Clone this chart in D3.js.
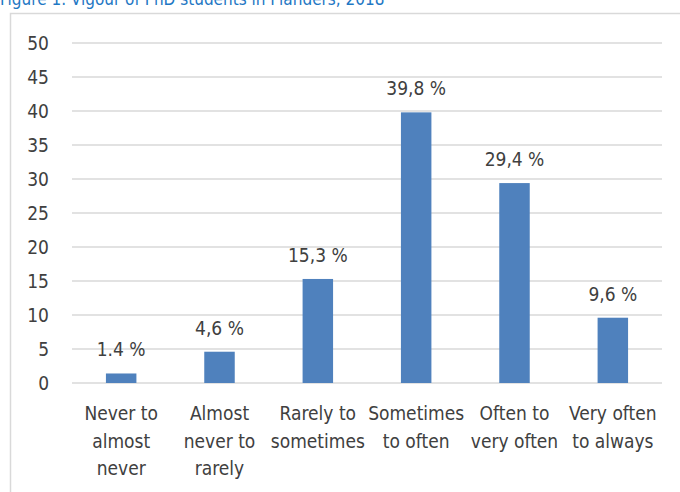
<!DOCTYPE html>
<html>
<head>
<meta charset="utf-8">
<script src="https://cdn.jsdelivr.net/npm/d3@7"></script>
<style>
  body { margin: 0; background: #fff; }
  svg { display: block; }
  .txt { font-family: "DejaVu Sans Condensed", "Liberation Sans Narrow", sans-serif; fill: #404040; }
</style>
</head>
<body>
<div id="chart"></div>
<script>
var categories = [
  ["Never to", "almost", "never"],
  ["Almost", "never to", "rarely"],
  ["Rarely to", "sometimes"],
  ["Sometimes", "to often"],
  ["Often to", "very often"],
  ["Very often", "to always"]
];
var values = [1.4, 4.6, 15.3, 39.8, 29.4, 9.6];
var valueLabels = ["1.4 %", "4,6 %", "15,3 %", "39,8 %", "29,4 %", "9,6 %"];
var yTicks = [0, 5, 10, 15, 20, 25, 30, 35, 40, 45, 50];
var title = "Figure 1. Vigour of PhD students in Flanders, 2018";

function drawChart() {
  var W = 680, H = 492;
  var plotLeft = 72, plotRight = 662, plotTop = 43, plotBottom = 383;

  var svg = d3.select("#chart").append("svg").attr("width", W).attr("height", H);

  // title, cut off by the top edge
  svg.append("text")
    .attr("class", "txt")
    .attr("x", 0).attr("y", 5)
    .style("fill", "#1f78c4")
    .style("font-size", "17px")
    .text(title);

  // chart frame
  svg.append("rect")
    .attr("x", 10.5).attr("y", 13.5)
    .attr("width", 700).attr("height", 500)
    .attr("fill", "none").attr("stroke", "#d9d9d9").attr("stroke-width", 1.5);

  var x = d3.scaleBand()
    .domain(d3.range(values.length))
    .range([plotLeft, plotRight])
    .paddingInner(0.69).paddingOuter(0.345);

  var y = d3.scaleLinear().domain([0, 50]).range([plotBottom, plotTop]);

  var grid = svg.append("g");
  grid.selectAll("line").data(yTicks).enter().append("line")
    .attr("x1", plotLeft).attr("x2", plotRight)
    .attr("y1", function(d){ return y(d); })
    .attr("y2", function(d){ return y(d); })
    .attr("stroke", "#d9d9d9").attr("stroke-width", 1.5);

  grid.selectAll("text").data(yTicks).enter().append("text")
    .attr("class", "txt")
    .attr("x", 49)
    .attr("y", function(d){ return y(d); })
    .attr("dy", "0.36em")
    .attr("text-anchor", "end")
    .style("font-size", "19px")
    .text(function(d){ return d; });

  svg.append("g").selectAll("rect").data(values).enter().append("rect")
    .attr("x", function(d, i){ return x(i); })
    .attr("y", function(d){ return y(d); })
    .attr("width", x.bandwidth())
    .attr("height", function(d){ return y(0) - y(d); })
    .attr("fill", "#4f81bd");

  svg.append("g").selectAll("text").data(values).enter().append("text")
    .attr("class", "txt")
    .attr("x", function(d, i){ return x(i) + x.bandwidth() / 2; })
    .attr("y", function(d){ return y(d) - 17; })
    .attr("text-anchor", "middle")
    .style("font-size", "19px")
    .text(function(d, i){ return valueLabels[i]; });

  var cat = svg.append("g").selectAll("text").data(categories).enter().append("text")
    .attr("class", "txt")
    .attr("x", function(d, i){ return x(i) + x.bandwidth() / 2; })
    .attr("y", 420)
    .attr("text-anchor", "middle")
    .style("font-size", "19px");

  cat.selectAll("tspan").data(function(d){ return d; }).enter().append("tspan")
    .attr("x", function(){ return d3.select(this.parentNode).attr("x"); })
    .attr("dy", function(d, i){ return i === 0 ? 0 : 27.5; })
    .text(function(d){ return d; });
}

drawChart();
</script>
</body>
</html>
